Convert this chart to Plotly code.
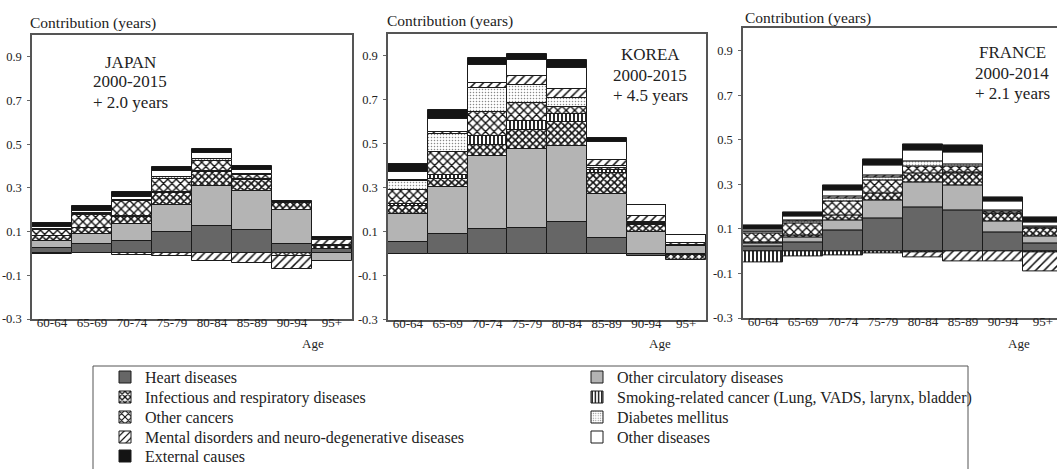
import plotly.graph_objects as go

# ---------------- data ----------------
ages = ["60-64", "65-69", "70-74", "75-79", "80-84", "85-89", "90-94", "95+"]
causes = [
    "Heart diseases",
    "Other circulatory diseases",
    "Infectious and respiratory diseases",
    "Smoking-related cancer (Lung, VADS, larynx, bladder)",
    "Other cancers",
    "Diabetes mellitus",
    "Mental disorders and neuro-degenerative diseases",
    "Other diseases",
    "External causes",
]
countries = ["JAPAN", "KOREA", "FRANCE"]
periods = ["2000-2015", "2000-2015", "2000-2014"]
gains = ["+ 2.0 years", "+ 4.5 years", "+ 2.1 years"]
y_ticks = [0.9, 0.7, 0.5, 0.3, 0.1, -0.1, -0.3]
y_tick_text = ["0.9", "0.7", "0.5", "0.3", "0.1", "-0.1", "-0.3"]

# Japan 2000-2015
jp_heart    = [0.025, 0.044, 0.059, 0.100, 0.126, 0.108, 0.044, 0.022]
jp_othcirc  = [0.032, 0.044, 0.076, 0.120, 0.181, 0.180, 0.156, -0.033]
jp_infect   = [0.022, 0.027, 0.033, 0.056, 0.065, 0.049, 0.030, 0.010]
jp_smoking  = [0.003, 0.003, 0.004, 0.004, 0.005, 0.003, 0.002, 0.003]
jp_othcanc  = [0.025, 0.060, 0.068, 0.062, 0.044, 0.020, -0.012, 0.005]
jp_diabetes = [0.003, 0.004, 0.005, 0.008, 0.010, 0.005, 0.002, 0.000]
jp_mental   = [-0.004, 0.002, -0.008, -0.012, -0.034, -0.045, -0.060, 0.022]
jp_othdis   = [0.010, 0.012, 0.015, 0.026, 0.028, 0.015, 0.003, 0.004]
jp_external = [0.018, 0.022, 0.020, 0.022, 0.020, 0.021, 0.005, 0.008]

# Korea 2000-2015
kr_heart    = [0.054, 0.088, 0.112, 0.118, 0.146, 0.070, -0.010, -0.008]
kr_othcirc  = [0.126, 0.214, 0.332, 0.360, 0.344, 0.201, 0.100, 0.035]
kr_infect   = [0.035, 0.040, 0.050, 0.085, 0.110, 0.097, 0.030, -0.022]
kr_smoking  = [0.010, 0.015, 0.042, 0.041, 0.035, 0.012, 0.003, 0.004]
kr_othcanc  = [0.063, 0.105, 0.111, 0.080, 0.034, 0.010, 0.005, 0.000]
kr_diabetes = [0.042, 0.081, 0.106, 0.084, 0.038, 0.008, 0.005, 0.000]
kr_mental   = [0.007, 0.012, 0.023, 0.040, 0.043, 0.028, 0.027, 0.008]
kr_othdis   = [0.035, 0.060, 0.081, 0.075, 0.096, 0.084, 0.052, 0.038]
kr_external = [0.038, 0.039, 0.035, 0.024, 0.034, 0.018, 0.000, 0.000]

# France 2000-2014
fr_heart    = [0.020, 0.040, 0.092, 0.147, 0.195, 0.185, 0.085, 0.035]
fr_othcirc  = [0.015, 0.022, 0.048, 0.079, 0.112, 0.109, 0.050, 0.033]
fr_infect   = [0.003, 0.009, 0.022, 0.033, 0.042, 0.055, 0.035, 0.034]
fr_smoking  = [-0.050, -0.025, -0.018, -0.008, -0.006, 0.003, 0.000, -0.005]
fr_othcanc  = [0.043, 0.054, 0.063, 0.060, 0.033, 0.027, 0.010, 0.004]
fr_diabetes = [0.008, 0.007, 0.012, 0.011, 0.019, 0.010, 0.003, 0.003]
fr_mental   = [0.002, 0.007, 0.010, 0.012, -0.020, -0.045, -0.045, -0.085]
fr_othdis   = [0.008, 0.018, 0.027, 0.044, 0.050, 0.053, 0.042, 0.022]
fr_external = [0.016, 0.016, 0.023, 0.026, 0.030, 0.033, 0.016, 0.020]

japan = [jp_heart, jp_othcirc, jp_infect, jp_smoking, jp_othcanc,
         jp_diabetes, jp_mental, jp_othdis, jp_external]
korea = [kr_heart, kr_othcirc, kr_infect, kr_smoking, kr_othcanc,
         kr_diabetes, kr_mental, kr_othdis, kr_external]
france = [fr_heart, fr_othcirc, fr_infect, fr_smoking, fr_othcanc,
          fr_diabetes, fr_mental, fr_othdis, fr_external]
panels = [japan, korea, france]

# ---------------- styles ----------------
W, H = 1057, 469
FONT = "Liberation Serif, Times New Roman, serif"
INK = "#1a1a1a"
TXT = "#222222"
styles = [
    dict(color="#666666", pattern=dict(shape="")),
    dict(color="#b4b4b4", pattern=dict(shape="")),
    dict(color="white", pattern=dict(shape="x", fgcolor="#111111", bgcolor="white",
                                     size=5, solidity=0.55, fillmode="replace")),
    dict(color="white", pattern=dict(shape="|", fgcolor="#111111", bgcolor="white",
                                     size=4, solidity=0.45, fillmode="replace")),
    dict(color="white", pattern=dict(shape="x", fgcolor="#111111", bgcolor="white",
                                     size=6, solidity=0.4, fillmode="replace")),
    dict(color="white", pattern=dict(shape=".", fgcolor="#888888", bgcolor="white",
                                     size=3, solidity=0.2, fillmode="replace")),
    dict(color="white", pattern=dict(shape="/", fgcolor="#111111", bgcolor="white",
                                     size=6, solidity=0.25, fillmode="replace")),
    dict(color="white", pattern=dict(shape="")),
    dict(color="#141414", pattern=dict(shape="")),
]

# panel boxes in pixels: (left, right, top, bottom, xmax)
boxes = [
    (32, 352, 35, 319, 7.5),
    (388, 706, 34, 319.5, 7.5),
    (743, 1057, 28.4, 318, 7.35),
]

# legend layout (pixels): text start per column, text centre per row
LEG_FS = 16
leg_cols = [145, 617]
leg_rows = [378, 398, 418, 438, 457]
leg_box = (93, 366, 968, 490)

def legend_name(i):
    return "legend" if i == 0 else "legend" + str(i + 1)

fig = go.Figure()
for p, data in enumerate(panels):
    sfx = "" if p == 0 else str(p + 1)
    for i, vals in enumerate(data):
        st = styles[i]
        fig.add_trace(go.Bar(
            x=ages, y=vals, name=causes[i],
            xaxis="x" + sfx, yaxis="y" + sfx,
            marker=dict(color=st["color"], pattern=st["pattern"],
                        line=dict(color=INK, width=1)),
            width=1.0,
            showlegend=(p == 0),
            legend=legend_name(i),
        ))

layout = dict(
    width=W, height=H,
    margin=dict(l=0, r=0, t=0, b=0, autoexpand=False),
    paper_bgcolor="white", plot_bgcolor="white",
    barmode="relative", bargap=0,
    font=dict(family=FONT, color=TXT),
    showlegend=True,
)

# one legend per entry, laid out in two columns
item_h = 1.3 * LEG_FS + 3
for i in range(len(causes)):
    col = leg_cols[i % 2]
    row = leg_rows[i // 2]
    top = row - 1 - item_h / 2 - 5
    layout[legend_name(i)] = dict(
        orientation="v", x=(col - 40) / W, xanchor="left",
        y=1 - top / H, yanchor="top",
        borderwidth=0, bgcolor="rgba(0,0,0,0)",
        font=dict(family=FONT, size=LEG_FS, color=TXT),
        itemwidth=30, itemclick=False, itemdoubleclick=False,
    )

shapes = [dict(type="rect", xref="paper", yref="paper",
               x0=leg_box[0] / W, x1=leg_box[2] / W,
               y0=1 - leg_box[3] / H, y1=1 - leg_box[1] / H,
               line=dict(color="#555555", width=1), fillcolor="rgba(0,0,0,0)",
               layer="below")]

annotations = []
for p, (l, r, t, b, xmax) in enumerate(boxes):
    sfx = "" if p == 0 else str(p + 1)
    layout["xaxis" + sfx] = dict(
        domain=[l / W, r / W], anchor="y" + sfx,
        range=[-0.5, xmax], type="category",
        showline=True, linecolor="#555555", linewidth=1.5, mirror=True,
        ticks="", showgrid=False, zeroline=False,
        tickfont=dict(family=FONT, size=13, color=TXT),
        ticklabelstandoff=-9,
    )
    layout["yaxis" + sfx] = dict(
        domain=[1 - b / H, 1 - t / H], anchor="x" + sfx,
        range=[-0.3, 1.0],
        tickvals=y_ticks, ticktext=y_tick_text,
        showline=True, linecolor="#555555", linewidth=1.5, mirror=True,
        ticks="outside", ticklen=3, tickcolor="#666666", tickwidth=1,
        showgrid=False, zeroline=False,
        tickfont=dict(family=FONT, size=12.5, color=TXT),
        ticklabelstandoff=3,
    )

# axis captions and panel labels
cap_pos = [(28, 23), (385, 21), (743, 18)]
label_pos = [(130, [62, 82, 102]), (650, [55, 75, 95]), (1012, [53, 73, 93])]
age_pos = [313, 660, 1019]
for p in range(3):
    cx, cy = cap_pos[p]
    annotations.append(dict(text="Contribution (years)", xref="paper", yref="paper",
                            x=cx / W, y=1 - cy / H, xanchor="left", yanchor="middle",
                            showarrow=False, font=dict(family=FONT, size=15.5, color=TXT)))
    lx, lys = label_pos[p]
    for txt, ly in zip([countries[p], periods[p], gains[p]], lys):
        annotations.append(dict(text=txt, xref="paper", yref="paper",
                                x=lx / W, y=1 - ly / H, xanchor="center", yanchor="middle",
                                showarrow=False, font=dict(family=FONT, size=17, color=TXT)))
    annotations.append(dict(text="Age", xref="paper", yref="paper",
                            x=age_pos[p] / W, y=1 - 343 / H, xanchor="center", yanchor="middle",
                            showarrow=False, font=dict(family=FONT, size=13, color=TXT)))
layout["annotations"] = annotations
layout["shapes"] = shapes

fig.update_layout(**layout)
fig.write_html("out.html")
